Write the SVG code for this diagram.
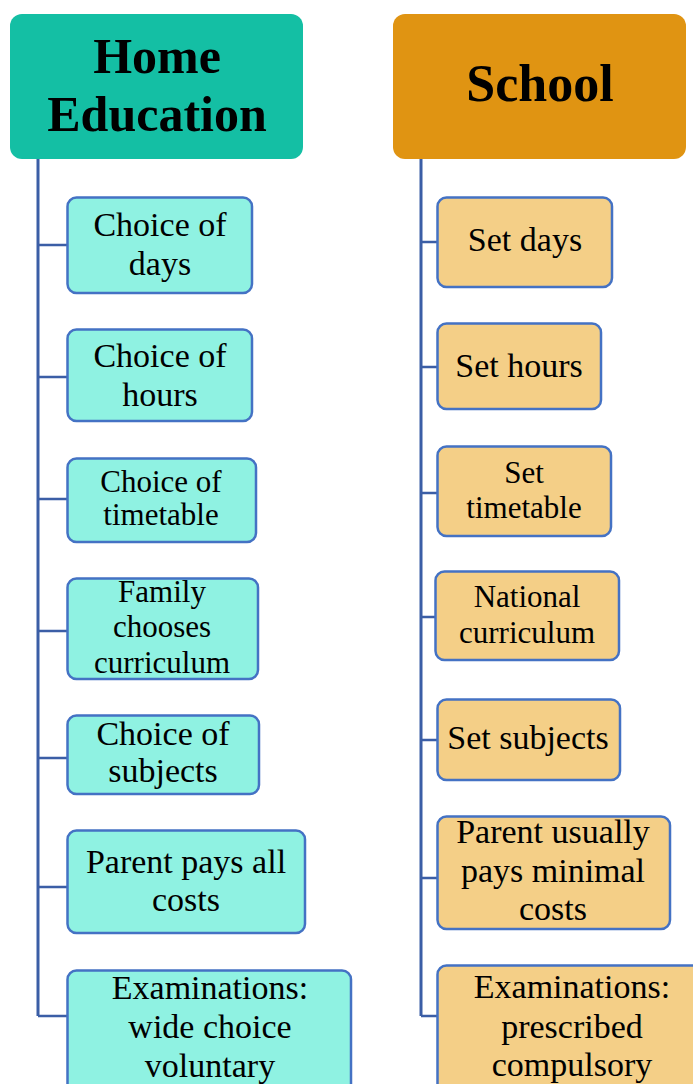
<svg xmlns="http://www.w3.org/2000/svg" width="693" height="1084" viewBox="0 0 693 1084">
<style>
.hl{fill:#14BFA4}
.hr{fill:#E09412}
.bl{fill:#8FF2E2;stroke:#4472C4;stroke-width:2.5}
.br{fill:#F4CF87;stroke:#4472C4;stroke-width:2.5}
.ht{font-family:"Liberation Serif",serif;font-weight:bold;font-size:50px;fill:#000;text-anchor:middle}
.t{font-family:"Liberation Serif",serif;font-size:34px;fill:#000;text-anchor:middle}
.s{font-size:31px}
.c{stroke:#3B5EA6;stroke-width:3;fill:none}
.c2{stroke:#3B5EA6;stroke-width:2.5;fill:none}
</style>
<rect width="693" height="1084" fill="#fff"/>
<g id="connectors">
<path class="c" d="M38 159V1016M421 159V1016"/>
<path class="c2" d="M38 245H67M38 377H67M38 499H67M38 631H67M38 758H67M38 887H67M38 1016H67"/>
<path class="c2" d="M421 242H437M421 367H437M421 493H437M421 617H435M421 740H437M421 878H437M421 1016H437"/>
</g>
<g id="home-education">
<rect class="hl" x="10" y="14" width="293" height="145" rx="12"/>
<text class="ht" x="157" y="73">Home</text>
<text class="ht" x="157" y="131">Education</text>
</g>
<g id="school">
<rect class="hr" x="393" y="14" width="293" height="145" rx="12"/>
<text class="ht" x="540" y="101" style="font-size:52px">School</text>
</g>
<g id="l1">
<rect class="bl" x="67.5" y="197.5" width="184.5" height="95.5" rx="9"/>
<text class="t" x="160" y="236">Choice of</text>
<text class="t" x="160" y="275">days</text>
</g>
<g id="l2">
<rect class="bl" x="67.5" y="329.5" width="184.5" height="91.5" rx="9"/>
<text class="t" x="160" y="367">Choice of</text>
<text class="t" x="160" y="406">hours</text>
</g>
<g id="l3">
<rect class="bl" x="67.5" y="458.5" width="188.5" height="83.5" rx="9"/>
<text class="t s" x="161" y="492">Choice of</text>
<text class="t s" x="161" y="525">timetable</text>
</g>
<g id="l4">
<rect class="bl" x="67.5" y="578.5" width="190.5" height="100.5" rx="9"/>
<text class="t s" x="162" y="602">Family</text>
<text class="t s" x="162" y="637">chooses</text>
<text class="t s" x="162" y="673">curriculum</text>
</g>
<g id="l5">
<rect class="bl" x="67.5" y="715.5" width="191.5" height="78.5" rx="9"/>
<text class="t" x="163" y="745">Choice of</text>
<text class="t" x="163" y="782">subjects</text>
</g>
<g id="l6">
<rect class="bl" x="67.5" y="830.5" width="237.5" height="102.5" rx="9"/>
<text class="t" x="186" y="873">Parent pays all</text>
<text class="t" x="186" y="911">costs</text>
</g>
<g id="l7">
<rect class="bl" x="67.5" y="970.5" width="283.5" height="130" rx="9"/>
<text class="t" x="210" y="999">Examinations:</text>
<text class="t" x="210" y="1038">wide choice</text>
<text class="t" x="210" y="1077">voluntary</text>
</g>
<g id="r1">
<rect class="br" x="437.5" y="197.5" width="174.5" height="89.5" rx="9"/>
<text class="t" x="525" y="251">Set days</text>
</g>
<g id="r2">
<rect class="br" x="437.5" y="323.5" width="163.5" height="85.5" rx="9"/>
<text class="t" x="519" y="377">Set hours</text>
</g>
<g id="r3">
<rect class="br" x="437.5" y="446.5" width="173.5" height="89.5" rx="9"/>
<text class="t s" x="524" y="483">Set</text>
<text class="t s" x="524" y="518">timetable</text>
</g>
<g id="r4">
<rect class="br" x="435.5" y="571.5" width="183.5" height="88.5" rx="9"/>
<text class="t s" x="527" y="607">National</text>
<text class="t s" x="527" y="643">curriculum</text>
</g>
<g id="r5">
<rect class="br" x="437.5" y="699.5" width="182.5" height="80.5" rx="9"/>
<text class="t" x="528" y="749">Set subjects</text>
</g>
<g id="r6">
<rect class="br" x="437.5" y="816.5" width="232.5" height="112.5" rx="9"/>
<text class="t" x="553" y="843">Parent usually</text>
<text class="t" x="553" y="882">pays minimal</text>
<text class="t" x="553" y="920">costs</text>
</g>
<g id="r7">
<rect class="br" x="437.5" y="965.5" width="270" height="135" rx="9"/>
<text class="t" x="572" y="998">Examinations:</text>
<text class="t" x="572" y="1038">prescribed</text>
<text class="t" x="572" y="1076">compulsory</text>
</g>
</svg>
